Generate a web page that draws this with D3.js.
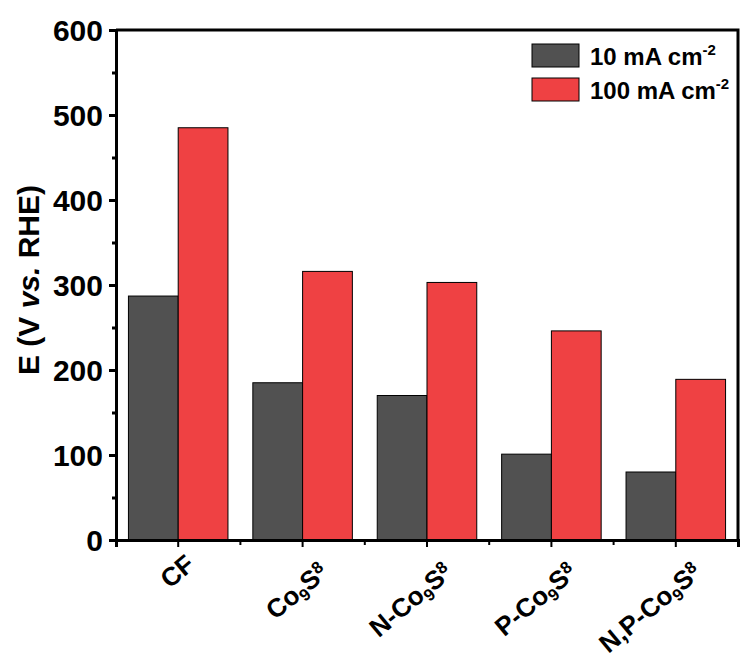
<!DOCTYPE html>
<html>
<head>
<meta charset="utf-8">
<script src="https://cdn.jsdelivr.net/npm/d3@7"></script>
<style>
  body { margin: 0; background: #fff; }
  svg text { font-family: "Liberation Sans", Arial, sans-serif; font-weight: bold; fill: #000; }
</style>
</head>
<body>
<div id="chart"></div>
<script>
// sample names, split in parts: [text, 0 normal | 1 subscript | -1 raised]
const categories = ['CF', 'Co9S8', 'N-Co9S8', 'P-Co9S8', 'N,P-Co9S8'];
const labelParts = [
  [['CF', 0]],
  [['Co', 0], ['9', 1], ['S', 0], ['8', -1]],
  [['N-Co', 0], ['9', 1], ['S', 0], ['8', -1]],
  [['P-Co', 0], ['9', 1], ['S', 0], ['8', -1]],
  [['N,P-Co', 0], ['9', 1], ['S', 0], ['8', -1]]
];
const seriesNames = ['10 mA cm', '100 mA cm'];
const values10 = [287, 185, 170, 101, 80];
const values100 = [485, 316, 303, 246, 189];
const colors = ['#515151', '#ef4143'];
const yTicks = [0, 100, 200, 300, 400, 500, 600];
const yMinor = [50, 150, 250, 350, 450, 550];

const W = 740, H = 660;
const mLeft = 116, mRight = 738, mTop = 30, mBottom = 540;

const svg = d3.select('#chart').append('svg')
  .attr('width', W)
  .attr('height', H);

const x = d3.scaleBand()
  .domain(categories)
  .range([mLeft, mRight])
  .padding(0);

const x1 = d3.scaleBand()
  .domain([0, 1])
  .range([x.bandwidth() * 0.1, x.bandwidth() * 0.9]);

const y = d3.scaleLinear()
  .domain([0, 600])
  .range([mBottom, mTop]);

// bars
const groups = svg.selectAll('.group')
  .data(categories.map((c, i) => ({cat: c, vals: [values10[i], values100[i]]})))
  .enter()
  .append('g')
  .attr('class', 'group')
  .attr('transform', d => 'translate(' + x(d.cat) + ',0)');

groups.selectAll('rect')
  .data(d => d.vals.map((v, k) => ({v: v, k: k})))
  .enter()
  .append('rect')
  .attr('x', d => x1(d.k))
  .attr('y', d => y(d.v))
  .attr('width', x1.bandwidth())
  .attr('height', d => y(0) - y(d.v))
  .attr('fill', d => colors[d.k])
  .attr('stroke', '#000')
  .attr('stroke-width', 1);

// frame (top + right)
svg.append('path')
  .attr('d', 'M' + mLeft + ',' + mTop + 'H' + mRight + 'V' + mBottom)
  .attr('fill', 'none')
  .attr('stroke', '#000')
  .attr('stroke-width', 3);

// y axis
const yAxis = svg.append('g')
  .attr('transform', 'translate(' + mLeft + ',0)')
  .call(d3.axisLeft(y).tickValues(yTicks).tickSize(7).tickPadding(6));
yAxis.select('.domain').attr('stroke-width', 3);
yAxis.selectAll('.tick line').attr('stroke-width', 3);
yAxis.selectAll('.tick text')
  .style('font-size', '30px')
  .attr('dy', '0.36em');

const yAxisMinor = svg.append('g')
  .attr('transform', 'translate(' + mLeft + ',0)')
  .call(d3.axisLeft(y).tickValues(yMinor).tickSize(4).tickFormat(''));
yAxisMinor.select('.domain').remove();
yAxisMinor.selectAll('.tick line').attr('stroke-width', 3);

// x axis
const xAxis = svg.append('g')
  .attr('transform', 'translate(0,' + mBottom + ')')
  .call(d3.axisBottom(x).tickSize(7).tickFormat(''));
xAxis.select('.domain').attr('stroke-width', 3);
xAxis.selectAll('.tick line').attr('stroke-width', 2);

const edges = categories.map(c => x(c));
svg.append('g').selectAll('line')
  .data(edges)
  .enter()
  .append('line')
  .attr('x1', d => d)
  .attr('x2', d => d)
  .attr('y1', mBottom)
  .attr('y2', mBottom + 5)
  .attr('stroke', '#000')
  .attr('stroke-width', 2);

// x labels, rotated
const xl = svg.append('g').selectAll('text')
  .data(categories)
  .enter()
  .append('text')
  .attr('text-anchor', 'end')
  .attr('transform', (d, i) => {
    const sup = labelParts[i].length > 1 ? 1 : 0;
    const px = x(d) + x.bandwidth() / 2 + 18 + 9 * sup;
    const py = mBottom + 27 + 8 * sup;
    return 'translate(' + px + ',' + py + ') rotate(-40)';
  })
  .style('font-size', '26px');

xl.each(function(d, i) {
  const t = d3.select(this);
  let shift = 0;
  labelParts[i].forEach(p => {
    const ts = t.append('tspan').text(p[0]);
    if (p[1] === 1) {
      ts.style('font-size', '17px').attr('dy', 5 - shift);
      shift = 5;
    } else if (p[1] === -1) {
      ts.style('font-size', '17px').attr('dy', -8 - shift);
      shift = -8;
    } else if (shift !== 0) {
      ts.attr('dy', -shift);
      shift = 0;
    }
  });
});

// y label
const yl = svg.append('text')
  .attr('text-anchor', 'middle')
  .attr('transform', 'translate(39,280) rotate(-90)')
  .style('font-size', '30px');
yl.append('tspan').text('E (V ');
yl.append('tspan').text('vs.').style('font-style', 'italic');
yl.append('tspan').text(' RHE)');

// legend
const legend = svg.append('g')
  .selectAll('g')
  .data(seriesNames)
  .enter()
  .append('g')
  .attr('transform', (d, i) => 'translate(532,' + (44 + i * 34) + ')');

legend.append('rect')
  .attr('width', 47)
  .attr('height', 23)
  .attr('fill', (d, i) => colors[i])
  .attr('stroke', '#000')
  .attr('stroke-width', 1);

const lt = legend.append('text')
  .attr('x', 58)
  .attr('y', 21)
  .style('font-size', '24px');
lt.append('tspan').text(d => d);
lt.append('tspan').text('-2').style('font-size', '15px').attr('dy', -10);
</script>
</body>
</html>
